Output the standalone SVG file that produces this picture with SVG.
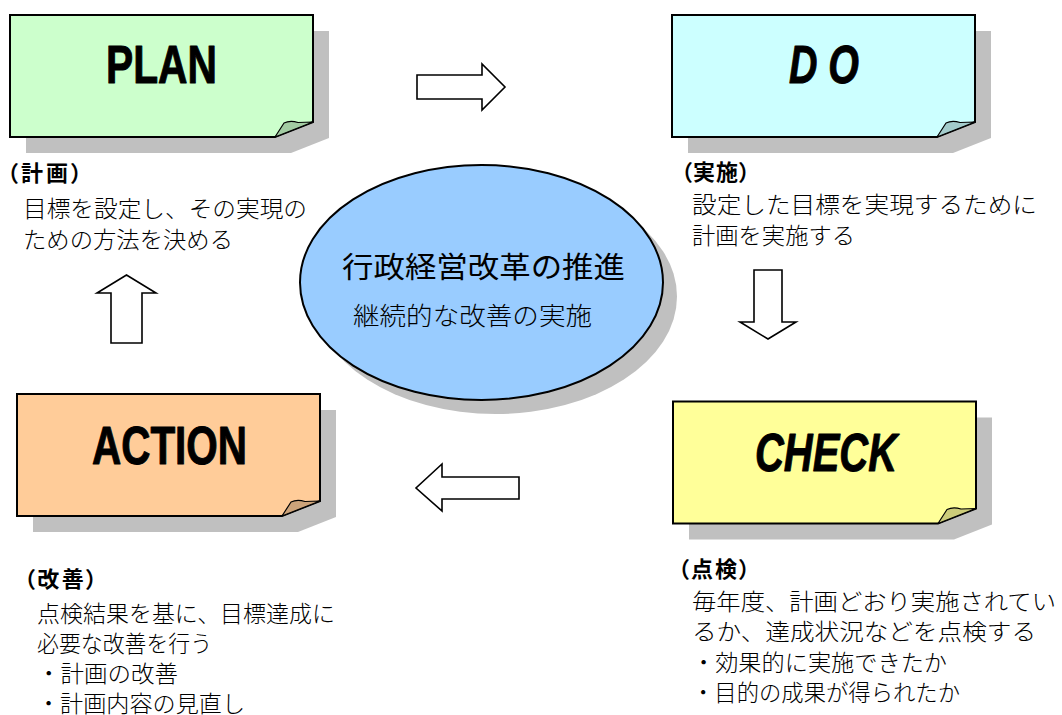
<svg xmlns="http://www.w3.org/2000/svg" xmlns:xlink="http://www.w3.org/1999/xlink" width="1062" height="715" viewBox="0 0 1062 715">
<style>
  .shadow { fill: #C0C0C0; stroke: none; }
  .box { stroke: #000; stroke-width: 2; stroke-linejoin: miter; }
  .fold { stroke: #000; stroke-width: 1.2; stroke-linejoin: round; }
  .label { font-family: "Liberation Sans", Arial, sans-serif; font-weight: bold; font-size: 54px; fill: #000; stroke: #000; stroke-width: 1; stroke-linejoin: round; }
  .head { font-family: "Noto Sans CJK JP", sans-serif; font-weight: bold; font-size: 22px; fill: #000; font-feature-settings: "palt"; }
  .body { font-family: "Noto Sans CJK JP", sans-serif; font-weight: 300; font-size: 23px; fill: #000; }
  .arrow { fill: #fff; stroke: #000; stroke-width: 1.6; stroke-linejoin: miter; }
  .ctr { font-family: "Noto Sans CJK JP", sans-serif; fill: #000; }
</style>
<defs>
  <path id="card" d="M0,0 H303 V107 L265,122 H0 Z"/>
  <path id="curl" d="M265,122 L274,108 Q280,105 288,107.5 L303,107 Z"/>
</defs>
<rect width="1062" height="715" fill="#fff"/>

<g id="connectors">
  <path class="arrow" d="M417,75 H482 V64 L505,87 L482,110 V99 H417 Z"/>
  <path class="arrow" d="M754,270 H782 V322 H796 L768,339 L740,322 H754 Z"/>
  <path class="arrow" d="M519,477 V499 H442 V511 L416,488 L442,464 V477 Z"/>
  <path class="arrow" d="M111,343 V293 H97 L126.5,275 L156,293 H142 V343 Z"/>
</g>

<g id="plan">
  <use xlink:href="#card" class="shadow" transform="translate(26,31)"/>
  <use xlink:href="#card" class="box" fill="#CCFFCC" transform="translate(10,15)"/>
  <use xlink:href="#curl" class="fold" fill="#A3CCA3" transform="translate(10,15)"/>
  <text class="label" x="106" y="83" textLength="111" lengthAdjust="spacingAndGlyphs">PLAN</text>
  <text class="head" x="7" y="181" textLength="75" lengthAdjust="spacing">（計画）</text>
  <text class="body" x="23" y="217" textLength="284" lengthAdjust="spacingAndGlyphs">目標を設定し、その実現の</text>
  <text class="body" x="23" y="248" textLength="210" lengthAdjust="spacingAndGlyphs">ための方法を決める</text>
</g>

<g id="do">
  <use xlink:href="#card" class="shadow" transform="translate(688,31)"/>
  <use xlink:href="#card" class="box" fill="#CCFFFF" transform="translate(672,15)"/>
  <use xlink:href="#curl" class="fold" fill="#A3CCCC" transform="translate(672,15)"/>
  <text class="label" x="789" y="83" font-style="italic" textLength="70" lengthAdjust="spacingAndGlyphs">D O</text>
  <text class="head" x="681" y="180" textLength="69" lengthAdjust="spacing">（実施）</text>
  <text class="body" x="692" y="213" textLength="345" lengthAdjust="spacingAndGlyphs">設定した目標を実現するために</text>
  <text class="body" x="692" y="244" textLength="163" lengthAdjust="spacingAndGlyphs">計画を実施する</text>
</g>

<g id="check">
  <use xlink:href="#card" class="shadow" transform="translate(689,417.5)"/>
  <use xlink:href="#card" class="box" fill="#FFFF99" transform="translate(673,401.5)"/>
  <use xlink:href="#curl" class="fold" fill="#CCCC7A" transform="translate(673,401.5)"/>
  <text class="label" x="755" y="471" font-style="italic" textLength="142" lengthAdjust="spacingAndGlyphs">CHECK</text>
  <text class="head" x="678" y="577" textLength="72" lengthAdjust="spacing">（点検）</text>
  <text class="body" x="692" y="610" textLength="364" lengthAdjust="spacingAndGlyphs">毎年度、計画どおり実施されてい</text>
  <text class="body" x="692" y="640" textLength="344" lengthAdjust="spacingAndGlyphs">るか、達成状況などを点検する</text>
  <text class="body" x="692" y="671" textLength="255" lengthAdjust="spacingAndGlyphs">・効果的に実施できたか</text>
  <text class="body" x="692" y="701" textLength="268" lengthAdjust="spacingAndGlyphs">・目的の成果が得られたか</text>
</g>

<g id="action">
  <use xlink:href="#card" class="shadow" transform="translate(33,410)"/>
  <use xlink:href="#card" class="box" fill="#FFCC99" transform="translate(17,394)"/>
  <use xlink:href="#curl" class="fold" fill="#CCA37A" transform="translate(17,394)"/>
  <text class="label" x="92" y="464" textLength="155" lengthAdjust="spacingAndGlyphs">ACTION</text>
  <text class="head" x="24" y="587" textLength="73" lengthAdjust="spacing">（改善）</text>
  <text class="body" x="37" y="622" textLength="298" lengthAdjust="spacingAndGlyphs">点検結果を基に、目標達成に</text>
  <text class="body" x="37" y="652" textLength="175" lengthAdjust="spacingAndGlyphs">必要な改善を行う</text>
  <text class="body" x="37" y="682" textLength="141" lengthAdjust="spacingAndGlyphs">・計画の改善</text>
  <text class="body" x="37" y="712" textLength="208" lengthAdjust="spacingAndGlyphs">・計画内容の見直し</text>
</g>

<g id="center">
  <ellipse cx="495.5" cy="296.5" rx="181.5" ry="117.5" class="shadow"/>
  <ellipse cx="481.5" cy="282.5" rx="181.5" ry="117.5" fill="#99CCFF" stroke="#000" stroke-width="2"/>
  <text class="ctr" x="342" y="278" font-size="29" textLength="283" lengthAdjust="spacingAndGlyphs">行政経営改革の推進</text>
  <text class="ctr" x="353" y="325" font-size="25" font-weight="300" textLength="239" lengthAdjust="spacingAndGlyphs">継続的な改善の実施</text>
</g>
</svg>
